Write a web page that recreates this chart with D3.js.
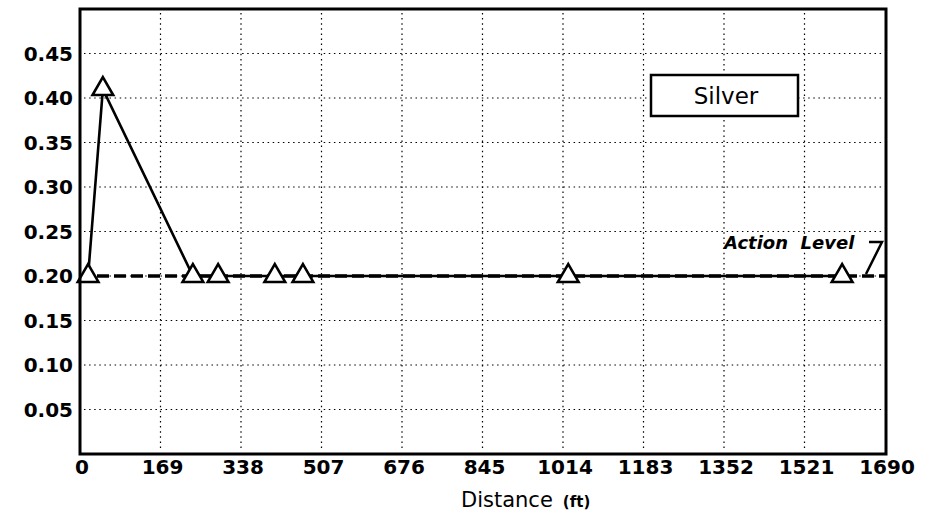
<!DOCTYPE html>
<html>
<head>
<meta charset="utf-8">
<script src="https://cdn.jsdelivr.net/npm/d3@7"></script>
<style>
  html, body { margin: 0; padding: 0; background: #fff; }
  svg { display: block; }
</style>
</head>
<body>
<div id="viz"></div>
<script>
// distance downstream (ft) and measured silver concentration
var distances = [17, 48, 237, 290, 409, 468, 1025, 1600];
var silver = [0.2, 0.41, 0.2, 0.2, 0.2, 0.2, 0.2, 0.2];
var actionLevel = 0.2;

var xTicks = [0, 169, 338, 507, 676, 845, 1014, 1183, 1352, 1521, 1690];
var yTicks = [0.05, 0.10, 0.15, 0.20, 0.25, 0.30, 0.35, 0.40, 0.45];

var seriesName = "Silver";
var xTitle = "Distance";
var xUnit = "(ft)";
var actionLabel = "Action  Level";

function draw() {

    var width = 934,
        height = 524;

    var left = 80, right = 886, top = 9, bottom = 454;

    var svg = d3.select("#viz").append("svg")
        .attr("width", width)
        .attr("height", height);

    var x = d3.scaleLinear().domain([0, 1690]).range([left, right - 1]);
    var y = d3.scaleLinear().domain([0, 0.5]).range([bottom, top]);

    var font = "'DejaVu Sans', sans-serif";

    // dotted grid
    var grid = svg.append("g")
        .attr("stroke", "#000")
        .attr("stroke-width", 1.2)
        .attr("stroke-dasharray", "1.5,3.6");

    grid.selectAll(".vgrid")
        .data(xTicks.slice(1, -1))
        .enter().append("line")
        .attr("x1", function(d) { return x(d); })
        .attr("x2", function(d) { return x(d); })
        .attr("y1", top + 4)
        .attr("y2", bottom - 4);

    grid.selectAll(".hgrid")
        .data(yTicks)
        .enter().append("line")
        .attr("x1", left + 4)
        .attr("x2", right - 4)
        .attr("y1", function(d) { return y(d); })
        .attr("y2", function(d) { return y(d); });

    // data line
    var pts = distances.map(function(d, i) { return [d, silver[i]]; });

    var line = d3.line()
        .x(function(d) { return x(d[0]); })
        .y(function(d) { return y(d[1]); });

    svg.append("path")
        .datum(pts)
        .attr("d", line)
        .attr("fill", "none")
        .attr("stroke", "#000")
        .attr("stroke-width", 2.6)
        .attr("stroke-linejoin", "miter");

    // action level
    svg.append("line")
        .attr("x1", left)
        .attr("x2", right)
        .attr("y1", y(actionLevel))
        .attr("y2", y(actionLevel))
        .attr("stroke", "#000")
        .attr("stroke-width", 3.5)
        .attr("stroke-dasharray", "12,5");

    // markers
    var tri = d3.symbol().type(d3.symbolTriangle).size(185);

    svg.selectAll(".pt")
        .data(pts)
        .enter().append("path")
        .attr("d", tri)
        .attr("transform", function(d) {
            return "translate(" + x(d[0]) + "," + y(d[1]) + ")";
        })
        .attr("fill", "#fff")
        .attr("stroke", "#000")
        .attr("stroke-width", 2.6);

    // frame
    svg.append("rect")
        .attr("x", left)
        .attr("y", top)
        .attr("width", right - left)
        .attr("height", bottom - top)
        .attr("fill", "none")
        .attr("stroke", "#000")
        .attr("stroke-width", 3);

    // tick labels
    svg.selectAll(".ylab")
        .data(yTicks)
        .enter().append("text")
        .attr("x", left - 7)
        .attr("y", function(d) { return y(d); })
        .attr("dy", "0.36em")
        .attr("text-anchor", "end")
        .attr("font-family", font)
        .attr("font-weight", "bold")
        .attr("font-size", 20)
        .text(function(d) { return d3.format(".2f")(d); });

    svg.selectAll(".xlab")
        .data(xTicks)
        .enter().append("text")
        .attr("x", function(d) { return x(d) + 2; })
        .attr("y", bottom + 20)
        .attr("text-anchor", "middle")
        .attr("font-family", font)
        .attr("font-weight", "bold")
        .attr("font-size", 20)
        .text(function(d) { return d; });

    // axis title
    var title = svg.append("text")
        .attr("x", 461)
        .attr("y", 507)
        .attr("font-family", font)
        .attr("font-size", 21)
        .attr("font-weight", 500);
    title.append("tspan").text(xTitle);
    title.append("tspan")
        .attr("dx", 10)
        .attr("font-size", 15)
        .attr("font-weight", "bold")
        .text(xUnit);

    // legend box
    var legend = svg.append("g").attr("transform", "translate(651,75)");
    legend.append("rect")
        .attr("width", 147)
        .attr("height", 41)
        .attr("fill", "#fff")
        .attr("stroke", "#000")
        .attr("stroke-width", 2.5);
    legend.append("text")
        .attr("x", 75)
        .attr("y", 29)
        .attr("text-anchor", "middle")
        .attr("font-family", font)
        .attr("font-size", 23)
        .text(seriesName);

    // action level label + leader
    svg.append("text")
        .attr("x", 724)
        .attr("y", y(actionLevel) - 27)
        .attr("font-family", font)
        .attr("font-style", "italic")
        .attr("font-weight", "bold")
        .attr("font-size", 18)
        .style("white-space", "pre")
        .text(actionLabel);

    svg.append("path")
        .attr("d", "M" + 869 + "," + (y(actionLevel) - 34) +
            "H" + 882 +
            "L" + 866 + "," + (y(actionLevel) - 2))
        .attr("fill", "none")
        .attr("stroke", "#000")
        .attr("stroke-width", 2.5);
} //draw

draw();
</script>
</body>
</html>
